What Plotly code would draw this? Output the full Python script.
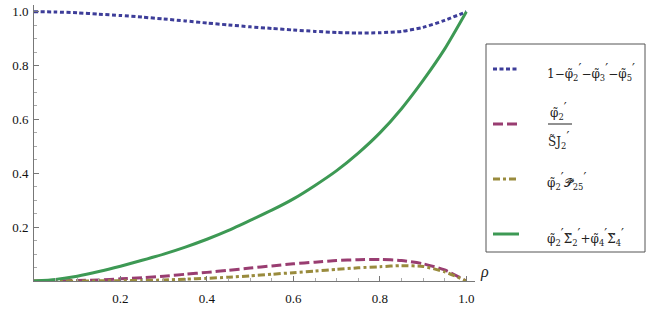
import plotly.graph_objects as go

# ---- data ----
rho = [0, 0.05, 0.1, 0.15, 0.2, 0.25, 0.3, 0.35, 0.4, 0.45, 0.5,
       0.55, 0.6, 0.65, 0.7, 0.75, 0.8, 0.85, 0.9, 0.95, 1.0]
s_blue = [1.0, 0.999, 0.996, 0.991, 0.986, 0.980, 0.973, 0.966, 0.958, 0.951, 0.944,
          0.938, 0.932, 0.927, 0.923, 0.921, 0.922, 0.927, 0.942, 0.968, 1.0]
s_magenta = [0, 0.0005, 0.002, 0.004, 0.008, 0.012, 0.018, 0.025, 0.032, 0.040, 0.048,
             0.056, 0.064, 0.070, 0.076, 0.079, 0.080, 0.076, 0.064, 0.041, 0]
s_olive = [0, 0, 0, 0.0005, 0.001, 0.002, 0.004, 0.007, 0.010, 0.014, 0.019,
           0.025, 0.031, 0.037, 0.043, 0.049, 0.053, 0.057, 0.054, 0.034, 0]
s_green = [0, 0.006, 0.018, 0.035, 0.055, 0.077, 0.100, 0.126, 0.155, 0.188, 0.225,
           0.263, 0.305, 0.355, 0.410, 0.475, 0.550, 0.640, 0.745, 0.862, 1.0]

x_ticks = [0.2, 0.4, 0.6, 0.8, 1.0]
y_ticks = [0.2, 0.4, 0.6, 0.8, 1.0]
tick_labels = ["0.2", "0.4", "0.6", "0.8", "1.0"]

P = "<sup><span style='font-size:13px'>′</span></sup>"
names = [
    "1−φ̃<sub>2</sub>" + P + "−φ̃<sub>3</sub>" + P + "−φ̃<sub>5</sub>" + P,
    "FRACTION",
    "φ̃<sub>2</sub>" + P + "𝒫̃<sub>25</sub>" + P,
    "φ̃<sub>2</sub>" + P + "Σ̃<sub>2</sub>" + P + "+φ̃<sub>4</sub>" + P + "Σ̃<sub>4</sub>" + P,
]
frac_num = "φ̃<sub>2</sub>" + P
frac_den = "S̃J<sub>2</sub>" + P

colors = ["#3d3d99", "#993d71", "#998b3d", "#3d9954"]
dashes = ["4px,2.5px", "10px,4px", "7px,3px,3px,3px", "solid"]
series = [s_blue, s_magenta, s_olive, s_green]

# ---- layout geometry (pixels) ----
W, H = 664, 312
L, R, T, B = 34, 664 - 475, 5, 31
PW, PH = W - L - R, H - T - B

def px(x):
    return (x - L) / PW

def py(y):
    return (H - B - y) / PH

FONT = "Liberation Serif"
LFONT = "DejaVu Serif"

fig = go.Figure()
for s, c, d in zip(series, colors, dashes):
    fig.add_trace(go.Scatter(x=rho, y=s, mode="lines",
                             line=dict(color=c, width=3, dash=d, shape="spline", smoothing=0.6),
                             showlegend=False, hoverinfo="skip"))

shapes = []
annotations = []
# legend frame
shapes.append(dict(type="rect", xref="paper", yref="paper",
                   x0=px(486), x1=px(645), y0=py(252), y1=py(44),
                   line=dict(color="#555", width=1)))
rows_y = [69, 124, 179, 234]
text_y = [72, None, 181, 237]
for i, (c, d, yy) in enumerate(zip(colors, dashes, rows_y)):
    shapes.append(dict(type="line", xref="paper", yref="paper",
                       x0=px(493), x1=px(519), y0=py(yy), y1=py(yy),
                       line=dict(color=c, width=3, dash=d)))
    if names[i] != "FRACTION":
        annotations.append(dict(xref="paper", yref="paper", x=px(545), y=py(text_y[i]),
                                text=names[i], showarrow=False, xanchor="left", yanchor="middle",
                                font=dict(family=LFONT, size=12, color="#222")))
# fraction entry
annotations.append(dict(xref="paper", yref="paper", x=px(558), y=py(111), text=frac_num,
                        showarrow=False, xanchor="center", yanchor="middle",
                        font=dict(family=LFONT, size=12, color="#222")))
annotations.append(dict(xref="paper", yref="paper", x=px(558), y=py(140), text=frac_den,
                        showarrow=False, xanchor="center", yanchor="middle",
                        font=dict(family=LFONT, size=12, color="#222")))
shapes.append(dict(type="line", xref="paper", yref="paper",
                   x0=px(548), x1=px(572), y0=py(124), y1=py(124),
                   line=dict(color="#222", width=1)))
# axis label rho
annotations.append(dict(xref="paper", yref="paper", x=px(478), y=py(272), text="<i>ρ</i>",
                        showarrow=False, xanchor="left", yanchor="middle",
                        font=dict(family=FONT, size=16, color="#222")))

tickfont = dict(family=FONT, size=13, color="#111")
axis_common = dict(showgrid=False, zeroline=False, showline=True, linecolor="#777", linewidth=1,
                   ticks="inside", ticklen=5, tickcolor="#777", tickwidth=1, automargin=False,
                   minor=dict(ticks="inside", ticklen=3, tickcolor="#aaa", dtick=0.05, tick0=0))

fig.update_layout(
    width=W, height=H, margin=dict(l=L, r=R, t=T, b=B),
    paper_bgcolor="white", plot_bgcolor="white",
    font=dict(family=FONT, size=13, color="#111"),
    xaxis=dict(range=[0, 1.02], tickvals=x_ticks, ticktext=tick_labels, ticklabelstandoff=5,
               tickfont=tickfont, **axis_common),
    yaxis=dict(range=[0, 1.025], tickvals=y_ticks, ticktext=tick_labels, ticklabelstandoff=2,
               tickfont=tickfont, **axis_common),
    shapes=shapes, annotations=annotations,
)

fig.write_html("out.html", config={"displayModeBar": False},
               post_script="document.body.style.margin='0';document.body.style.padding='0';")
